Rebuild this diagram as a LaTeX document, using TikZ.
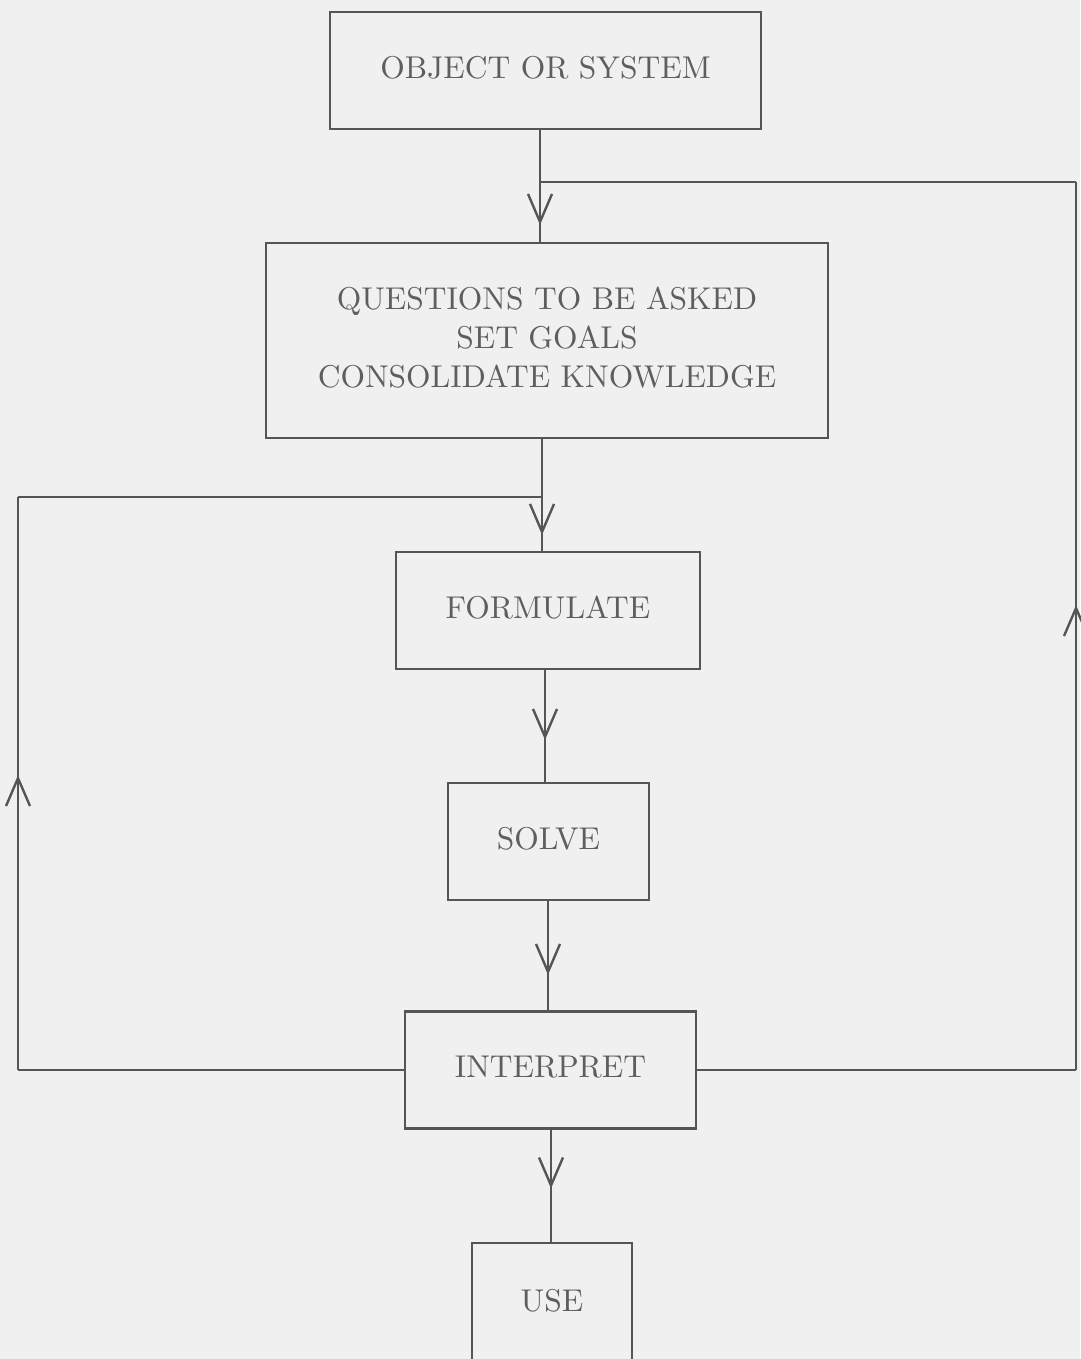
\documentclass[tikz,border=0pt]{standalone}
\usepackage{graphicx}
\usetikzlibrary{arrows.meta,decorations.markings}
\definecolor{bgc}{HTML}{F0F0F0}
\definecolor{linec}{HTML}{555555}
\definecolor{txtc}{HTML}{5E5E5E}
\newcommand{\lbl}[1]{\scalebox{3.15}{\fontsize{10}{12.4}\selectfont\begin{tabular}{@{}c@{}}#1\end{tabular}}}
\tikzset{
  box/.style={draw=linec, line width=2.4pt, rectangle, inner sep=0pt, outer sep=0pt, text=txtc},
  flow/.style={draw=linec, line width=2.4pt},
  tipat/.style={postaction={decorate}, decoration={markings,
     mark=at position #1 with {\arrow{Straight Barb[length=28pt,width=24pt,line width=2.4pt]}}}}
}
\begin{document}
\begin{tikzpicture}[x=1pt,y=-1pt]
\fill[bgc] (0,0) rectangle (1080,1359);
\useasboundingbox (0,0) rectangle (1080,1359);

\node[box, minimum width=431pt, minimum height=117pt] (obj) at (545.5,70.5) {\lbl{OBJECT OR SYSTEM}};
\node[box, minimum width=562pt, minimum height=195pt] (q) at (547,340.5) {\lbl{QUESTIONS TO BE ASKED\\SET GOALS\\CONSOLIDATE KNOWLEDGE}};
\node[box, minimum width=304pt, minimum height=117pt] (f) at (548,610.5) {\lbl{FORMULATE}};
\node[box, minimum width=201pt, minimum height=117pt] (s) at (548.5,841.5) {\lbl{SOLVE}};
\node[box, minimum width=291pt, minimum height=117pt] (i) at (550.5,1070) {\lbl{INTERPRET}};
\node[box, minimum width=160pt, minimum height=122pt] (u) at (552,1304) {\lbl{USE}};

\coordinate (j1) at (540,182);
\coordinate (j2) at (542,497);
\coordinate (rb) at (1076,1070);
\coordinate (rt) at (1076,182);
\coordinate (lb) at (18,1070);
\coordinate (lt) at (18,497);

\draw[flow, tipat=96pt] ([xshift=-5.5pt]obj.south) -- ([xshift=-7pt]q.north);
\draw[flow, tipat=97pt] ([xshift=-5pt]q.south) -- ([xshift=-6pt]f.north);
\draw[flow, tipat=71pt] ([xshift=-3pt]f.south) -- ([xshift=-3.5pt]s.north);
\draw[flow, tipat=75pt] ([xshift=-0.5pt]s.south) -- ([xshift=-2.5pt]i.north);
\draw[flow, tipat=60pt] ([xshift=0.5pt]i.south) -- ([xshift=-1pt]u.north);

\draw[flow] (i.east) -- (rb);
\draw[flow, tipat=465pt] (rb) -- (rt);
\draw[flow] (rt) -- (j1);

\draw[flow] (i.west) -- (lb);
\draw[flow, tipat=295pt] (lb) -- (lt);
\draw[flow] (lt) -- (j2);
\end{tikzpicture}
\end{document}
